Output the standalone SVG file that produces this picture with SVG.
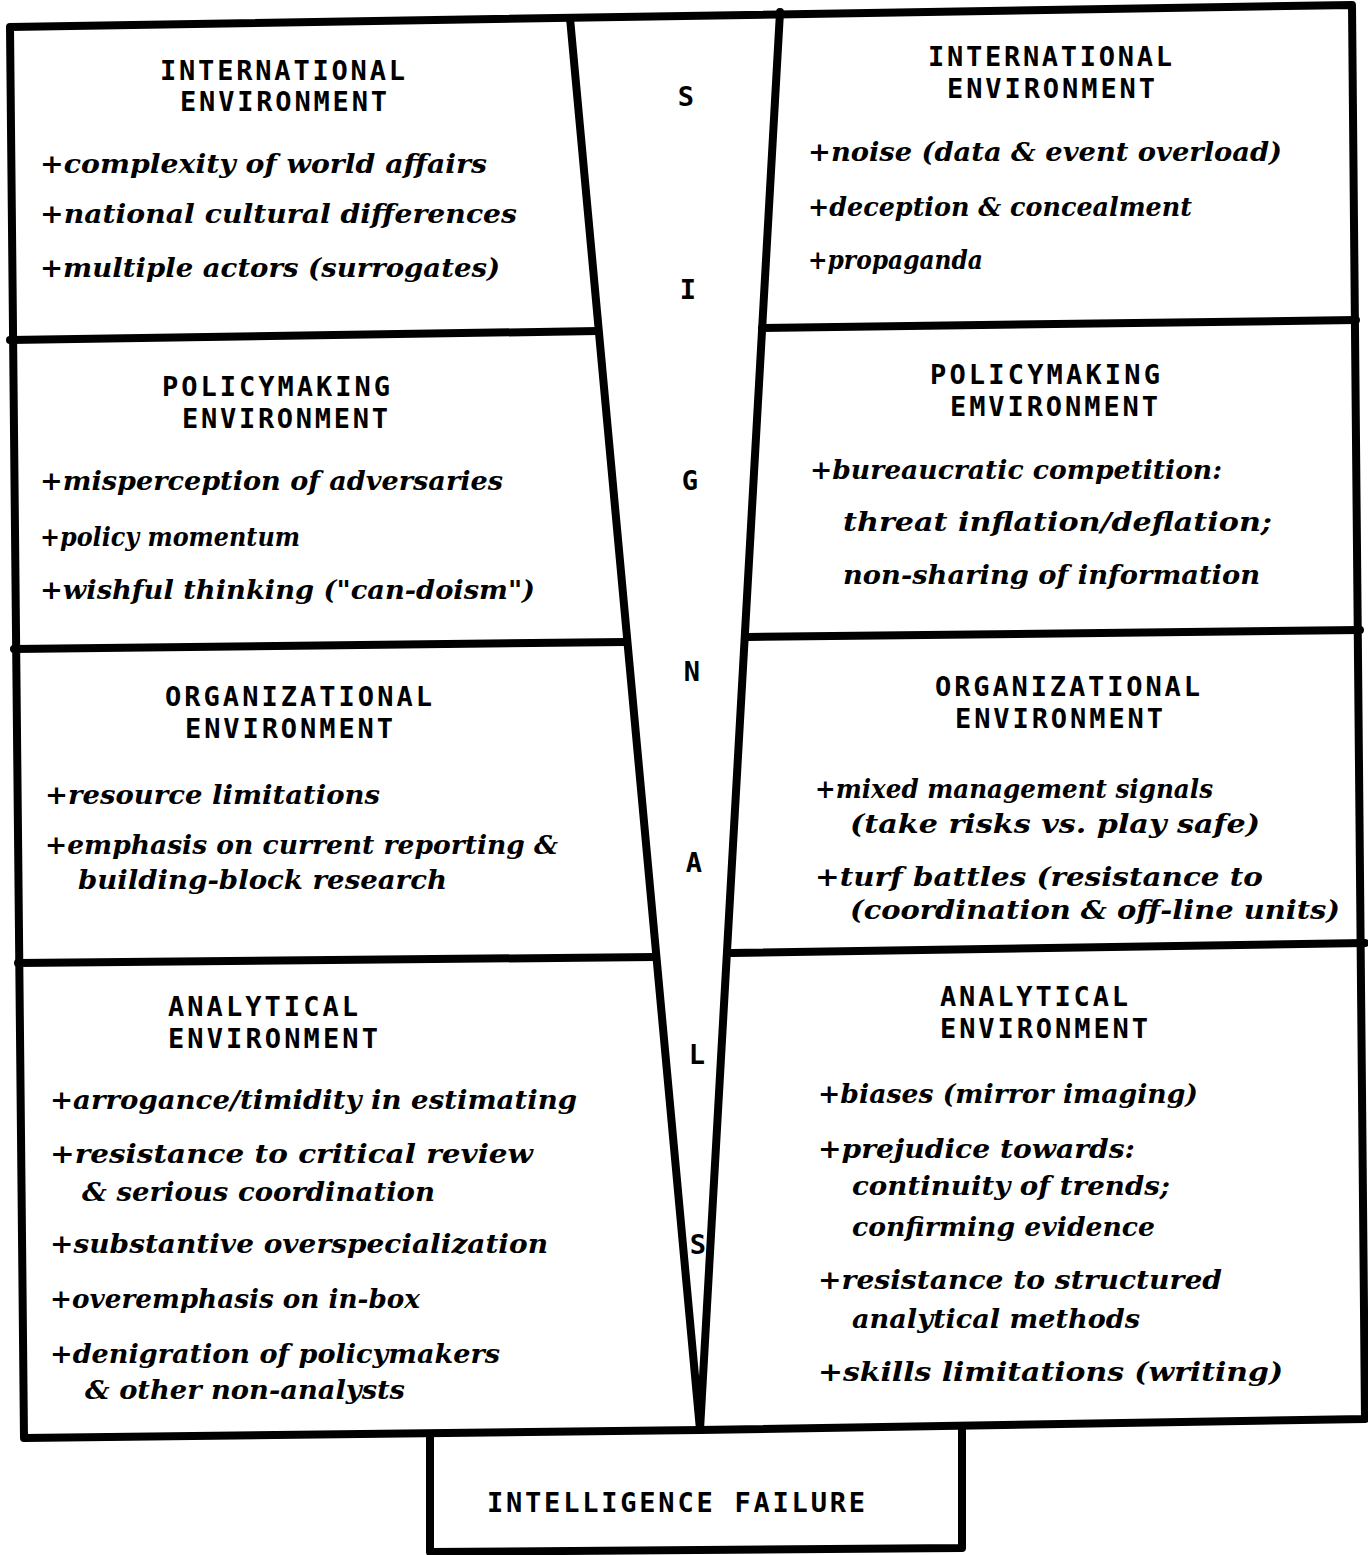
<svg xmlns="http://www.w3.org/2000/svg" width="1368" height="1555" viewBox="0 0 1368 1555">
<style>
.ln{fill:none;stroke:#000;stroke-width:8;stroke-linecap:round;stroke-linejoin:round}
.t{font-family:"DejaVu Sans Mono","Liberation Mono",monospace;font-weight:bold;font-size:27px;fill:#000}
.i{font-family:"DejaVu Serif","Liberation Serif",serif;font-style:italic;font-weight:bold;font-size:26px;fill:#000}
.c{font-family:"DejaVu Sans Mono","Liberation Mono",monospace;font-weight:bold;font-size:27px;fill:#000;text-anchor:middle}
</style>
<rect width="1368" height="1555" fill="#fff"/>
<g id="connectors">
<path class="ln" d="M10,27 L1352,5 L1365,1419 L700,1430 L24,1438 Z"/>
<path class="ln" d="M570,18 L700,1430 L780,12"/>
<path class="ln" d="M10,340 L598,331"/>
<path class="ln" d="M14,649 L625,642"/>
<path class="ln" d="M18,963 L655,957"/>
<path class="ln" d="M762,328 L1356,320"/>
<path class="ln" d="M748,637 L1360,630"/>
<path class="ln" d="M732,953 L1365,943"/>
</g>
<g id="left-international">
<text class="t" x="160" y="80" textLength="245" lengthAdjust="spacing">INTERNATIONAL</text>
<text class="t" x="180" y="111" textLength="207" lengthAdjust="spacing">ENVIRONMENT</text>
<text class="i" x="40" y="173" textLength="447" lengthAdjust="spacingAndGlyphs">+complexity of world affairs</text>
<text class="i" x="40" y="223" textLength="477" lengthAdjust="spacingAndGlyphs">+national cultural differences</text>
<text class="i" x="40" y="277" textLength="460" lengthAdjust="spacingAndGlyphs">+multiple actors (surrogates)</text>
</g>
<g id="left-policymaking">
<text class="t" x="162" y="396" textLength="228" lengthAdjust="spacing">POLICYMAKING</text>
<text class="t" x="182" y="428" textLength="206" lengthAdjust="spacing">ENVIRONMENT</text>
<text class="i" x="40" y="490" textLength="463" lengthAdjust="spacingAndGlyphs">+misperception of adversaries</text>
<text class="i" x="40" y="546" textLength="260" lengthAdjust="spacingAndGlyphs">+policy momentum</text>
<text class="i" x="40" y="599" textLength="495" lengthAdjust="spacingAndGlyphs">+wishful thinking ("can-doism")</text>
</g>
<g id="left-organizational">
<text class="t" x="165" y="706" textLength="267" lengthAdjust="spacing">ORGANIZATIONAL</text>
<text class="t" x="185" y="738" textLength="208" lengthAdjust="spacing">ENVIRONMENT</text>
<text class="i" x="45" y="804" textLength="335" lengthAdjust="spacingAndGlyphs">+resource limitations</text>
<text class="i" x="45" y="854" textLength="513" lengthAdjust="spacingAndGlyphs">+emphasis on current reporting &amp;</text>
<text class="i" x="78" y="889" textLength="369" lengthAdjust="spacingAndGlyphs">building-block research</text>
</g>
<g id="left-analytical">
<text class="t" x="168" y="1016" textLength="190" lengthAdjust="spacing">ANALYTICAL</text>
<text class="t" x="168" y="1048" textLength="210" lengthAdjust="spacing">ENVIRONMENT</text>
<text class="i" x="50" y="1109" textLength="527" lengthAdjust="spacingAndGlyphs">+arrogance/timidity in estimating</text>
<text class="i" x="50" y="1163" textLength="483" lengthAdjust="spacingAndGlyphs">+resistance to critical review</text>
<text class="i" x="82" y="1201" textLength="353" lengthAdjust="spacingAndGlyphs">&amp; serious coordination</text>
<text class="i" x="50" y="1253" textLength="498" lengthAdjust="spacingAndGlyphs">+substantive overspecialization</text>
<text class="i" x="50" y="1308" textLength="370" lengthAdjust="spacingAndGlyphs">+overemphasis on in-box</text>
<text class="i" x="50" y="1363" textLength="450" lengthAdjust="spacingAndGlyphs">+denigration of policymakers</text>
<text class="i" x="85" y="1399" textLength="320" lengthAdjust="spacingAndGlyphs">&amp; other non-analysts</text>
</g>
<g id="signals">
<text class="c" x="686" y="106">S</text>
<text class="c" x="688" y="299">I</text>
<text class="c" x="690" y="490">G</text>
<text class="c" x="692" y="681">N</text>
<text class="c" x="694" y="872">A</text>
<text class="c" x="697" y="1064">L</text>
<text class="c" x="698" y="1254">S</text>
</g>
<g id="right-international">
<text class="t" x="928" y="66" textLength="244" lengthAdjust="spacing">INTERNATIONAL</text>
<text class="t" x="947" y="98" textLength="208" lengthAdjust="spacing">ENVIRONMENT</text>
<text class="i" x="808" y="161" textLength="474" lengthAdjust="spacingAndGlyphs">+noise (data &amp; event overload)</text>
<text class="i" x="808" y="216" textLength="384" lengthAdjust="spacingAndGlyphs">+deception &amp; concealment</text>
<text class="i" x="808" y="269" textLength="175" lengthAdjust="spacingAndGlyphs">+propaganda</text>
</g>
<g id="right-policymaking">
<text class="t" x="930" y="384" textLength="230" lengthAdjust="spacing">POLICYMAKING</text>
<text class="t" x="950" y="416" textLength="208" lengthAdjust="spacing">EMVIRONMENT</text>
<text class="i" x="810" y="479" textLength="412" lengthAdjust="spacingAndGlyphs">+bureaucratic competition:</text>
<text class="i" x="843" y="531" textLength="429" lengthAdjust="spacingAndGlyphs">threat inflation/deflation;</text>
<text class="i" x="843" y="584" textLength="417" lengthAdjust="spacingAndGlyphs">non-sharing of information</text>
</g>
<g id="right-organizational">
<text class="t" x="935" y="696" textLength="265" lengthAdjust="spacing">ORGANIZATIONAL</text>
<text class="t" x="955" y="728" textLength="208" lengthAdjust="spacing">ENVIRONMENT</text>
<text class="i" x="815" y="798" textLength="398" lengthAdjust="spacingAndGlyphs">+mixed management signals</text>
<text class="i" x="850" y="833" textLength="410" lengthAdjust="spacingAndGlyphs">(take risks vs. play safe)</text>
<text class="i" x="815" y="886" textLength="448" lengthAdjust="spacingAndGlyphs">+turf battles (resistance to</text>
<text class="i" x="850" y="919" textLength="490" lengthAdjust="spacingAndGlyphs">(coordination &amp; off-line units)</text>
</g>
<g id="right-analytical">
<text class="t" x="940" y="1006" textLength="188" lengthAdjust="spacing">ANALYTICAL</text>
<text class="t" x="940" y="1038" textLength="208" lengthAdjust="spacing">ENVIRONMENT</text>
<text class="i" x="818" y="1103" textLength="380" lengthAdjust="spacingAndGlyphs">+biases (mirror imaging)</text>
<text class="i" x="818" y="1158" textLength="317" lengthAdjust="spacingAndGlyphs">+prejudice towards:</text>
<text class="i" x="852" y="1195" textLength="318" lengthAdjust="spacingAndGlyphs">continuity of trends;</text>
<text class="i" x="852" y="1236" textLength="303" lengthAdjust="spacingAndGlyphs">confirming evidence</text>
<text class="i" x="818" y="1289" textLength="404" lengthAdjust="spacingAndGlyphs">+resistance to structured</text>
<text class="i" x="852" y="1328" textLength="288" lengthAdjust="spacingAndGlyphs">analytical methods</text>
<text class="i" x="818" y="1381" textLength="465" lengthAdjust="spacingAndGlyphs">+skills limitations (writing)</text>
</g>
<g id="intelligence-failure">
<path class="ln" d="M430,1434 L430,1552 L962,1548 L962,1428"/>
<text class="t" x="487" y="1512" textLength="378" lengthAdjust="spacing">INTELLIGENCE FAILURE</text>
</g>
</svg>
